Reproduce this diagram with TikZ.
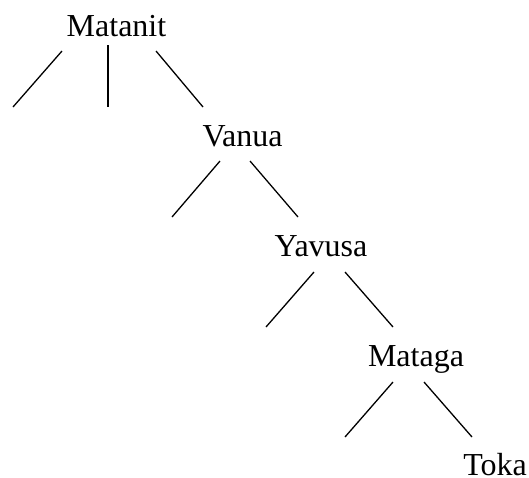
\documentclass[tikz,border=0pt]{standalone}
\usepackage{fontspec}
\setmainfont{Liberation Serif}
\begin{document}
\begin{tikzpicture}[x=1pt,y=-1pt,
  lbl/.style={anchor=base,inner sep=0pt,text depth=0pt,font=\fontsize{32}{38}\selectfont},
  br/.style={line width=1.3pt,line cap=butt}]
\useasboundingbox (0,0) rectangle (529,477);
\node[lbl] (matanit) at (116.5,36) {Matanit};
\node[lbl] (vanua) at (242.5,146) {Vanua};
\node[lbl] (yavusa) at (321,256) {Yavusa};
\node[lbl] (mataga) at (416,366) {Mataga};
\node[lbl] (toka) at (495,475) {Toka};
% Matanit branches
\coordinate (m1) at (62,51);   \coordinate (m1e) at (13,107);
\coordinate (m2) at (108,45);  \coordinate (m2e) at (108,107);
\coordinate (m3) at (156,51);  \coordinate (m3e) at (203,107);
% Vanua branches
\coordinate (v1) at (220,161); \coordinate (v1e) at (172,217);
\coordinate (v2) at (250,161); \coordinate (v2e) at (298,217);
% Yavusa branches
\coordinate (y1) at (314,272); \coordinate (y1e) at (266,327);
\coordinate (y2) at (345,272); \coordinate (y2e) at (393,327);
% Mataga branches
\coordinate (g1) at (393,382); \coordinate (g1e) at (345,437);
\coordinate (g2) at (424,382); \coordinate (g2e) at (472,437);
\draw[br] (m1) -- (m1e);
\draw[br] (m2) -- (m2e);
\draw[br] (m3) -- (m3e);
\draw[br] (v1) -- (v1e);
\draw[br] (v2) -- (v2e);
\draw[br] (y1) -- (y1e);
\draw[br] (y2) -- (y2e);
\draw[br] (g1) -- (g1e);
\draw[br] (g2) -- (g2e);
\end{tikzpicture}
\end{document}
